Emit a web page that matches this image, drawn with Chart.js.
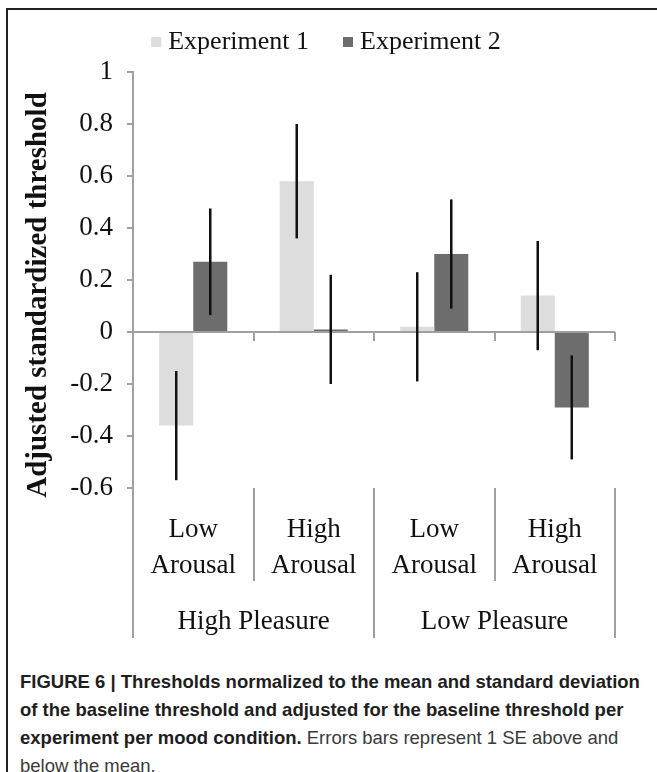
<!DOCTYPE html>
<html>
<head>
<meta charset="utf-8">
<script src="https://cdn.jsdelivr.net/npm/chart.js@4.4.1/dist/chart.umd.min.js"></script>
<style>
    html, body { margin: 0; padding: 0; background: #fff; }
    body { width: 657px; height: 772px; position: relative; overflow: hidden; }
    #frame {
        position: absolute; left: 6px; top: 8px; width: 660px; height: 780px;
        border-top: 2px solid #222; border-left: 2px solid #222;
    }
    #wrap { position: absolute; left: 0; top: 0; width: 657px; height: 650px; }
    #caption {
        position: absolute; left: 20px; top: 668px;
        font-family: "Liberation Sans", Arial, sans-serif;
        font-size: 18.5px; line-height: 28px; color: #3a3a3a;
        white-space: nowrap;
    }
    #caption b { color: #1e1e1e; }
</style>
</head>
<body>
<div id="frame"></div>
<div id="wrap"><canvas id="chart" width="657" height="650"></canvas></div>
<div id="caption">
    <div><b>FIGURE 6 | Thresholds normalized to the mean and standard deviation</b></div>
    <div><b>of the baseline threshold and adjusted for the baseline threshold per</b></div>
    <div><b>experiment per mood condition.</b> Errors bars represent 1 SE above and</div>
    <div>below the mean.</div>
</div>
<script>
// ===== DATA =====
const categories = [["Low", "Arousal"], ["High", "Arousal"], ["Low", "Arousal"], ["High", "Arousal"]];
const groups = ["High Pleasure", "Low Pleasure"];
const seriesNames = ["Experiment 1", "Experiment 2"];

const exp1Values = [-0.36, 0.58, 0.02, 0.14];
const exp1Err = [0.21, 0.22, 0.21, 0.21];
const exp2Values = [0.27, 0.01, 0.30, -0.29];
const exp2Err = [0.205, 0.21, 0.21, 0.20];

const yMin = -0.6, yMax = 1, yStep = 0.2;

const serif = "'Liberation Serif', 'Times New Roman', serif";
const axisGray = "#a0a0a0";

// ===== PLUGIN: error bars, zero line, separators, legend, y title =====
const extras = {
    id: "extras",
    afterDatasetsDraw(chart) {
        const ctx = chart.ctx;
        const y = chart.scales.y;
        const area = chart.chartArea;
        const errs = [exp1Err, exp2Err];

        // zero line
        const y0 = y.getPixelForValue(0);
        ctx.save();
        ctx.strokeStyle = axisGray;
        ctx.lineWidth = 2;
        ctx.beginPath();
        ctx.moveTo(area.left - 6, y0);
        ctx.lineTo(area.right, y0);
        ctx.stroke();

        // category boundary ticks + separators below
        const n = categories.length;
        const step = (area.right - area.left) / n;
        for (let i = 0; i <= n; i++) {
            const bx = Math.round(area.left + step * i);
            ctx.beginPath();
            ctx.moveTo(bx, y0);
            ctx.lineTo(bx, y0 + 9);
            ctx.stroke();
            const outer = i % 2 === 0;
            ctx.beginPath();
            ctx.moveTo(bx, area.bottom);
            ctx.lineTo(bx, area.bottom + (outer ? 150 : 93));
            ctx.stroke();
        }
        ctx.restore();

        // error bars
        chart.data.datasets.forEach((ds, di) => {
            const meta = chart.getDatasetMeta(di);
            meta.data.forEach((bar, i) => {
                const v = ds.data[i];
                const e = errs[di][i];
                ctx.save();
                ctx.strokeStyle = "#111";
                ctx.lineWidth = 2.5;
                ctx.beginPath();
                ctx.moveTo(bar.x, y.getPixelForValue(v + e));
                ctx.lineTo(bar.x, y.getPixelForValue(v - e));
                ctx.stroke();
                ctx.restore();
            });
        });

        // group labels
        ctx.save();
        ctx.fillStyle = "#111";
        ctx.font = "27px " + serif;
        ctx.textAlign = "center";
        ctx.textBaseline = "alphabetic";
        groups.forEach((g, gi) => {
            const cx = area.left + step * (gi * 2 + 1);
            ctx.fillText(g, cx, 629);
        });
        ctx.restore();

        // y title
        ctx.save();
        ctx.fillStyle = "#111";
        ctx.font = "bold 29px " + serif;
        ctx.translate(39, 295);
        ctx.rotate(-Math.PI / 2);
        ctx.textAlign = "center";
        ctx.textBaseline = "middle";
        ctx.fillText("Adjusted standardized threshold", 0, 0);
        ctx.restore();

        // legend
        ctx.save();
        ctx.font = "26px " + serif;
        const box = 10, gapIn = 7, gapOut = 34;
        const widths = seriesNames.map(s => box + gapIn + ctx.measureText(s).width);
        const total = widths[0] + widths[1] + gapOut;
        let lx = 326 - total / 2;
        chart.data.datasets.forEach((ds, di) => {
            ctx.fillStyle = ds.backgroundColor;
            ctx.fillRect(lx, 37, box, box);
            ctx.fillStyle = "#111";
            ctx.textBaseline = "alphabetic";
            ctx.fillText(seriesNames[di], lx + box + gapIn, 49);
            lx += widths[di] + gapOut;
        });
        ctx.restore();
    }
};

new Chart(document.getElementById("chart"), {
    type: "bar",
    data: {
        labels: categories,
        datasets: [
            { label: seriesNames[0], data: exp1Values, backgroundColor: "#dddddd" },
            { label: seriesNames[1], data: exp2Values, backgroundColor: "#6d6d6d" }
        ]
    },
    options: {
        responsive: false,
        animation: false,
        categoryPercentage: 0.565,
        barPercentage: 1.0,
        layout: { padding: { top: 72, right: 42, left: 0, bottom: 0 } },
        plugins: {
            legend: { display: false },
            tooltip: { enabled: false }
        },
        scales: {
            x: {
                grid: { display: false, drawTicks: false },
                border: { display: false },
                ticks: {
                    color: "#111",
                    font: { family: serif, size: 27, lineHeight: 1.333 },
                    padding: 24,
                    maxRotation: 0,
                    autoSkip: false
                },
                afterFit(scale) { scale.height = 162; }
            },
            y: {
                min: yMin,
                max: yMax,
                grid: { drawOnChartArea: false, drawTicks: true, tickLength: 6, color: axisGray, lineWidth: 2 },
                border: { display: true, color: axisGray, width: 2 },
                ticks: {
                    stepSize: yStep,
                    color: "#111",
                    font: { family: serif, size: 27 },
                    padding: 14,
                    callback: v => String(Number(v.toFixed(1)))
                },
                afterFit(scale) { scale.width = 133; }
            }
        }
    },
    plugins: [extras]
});
</script>
</body>
</html>
